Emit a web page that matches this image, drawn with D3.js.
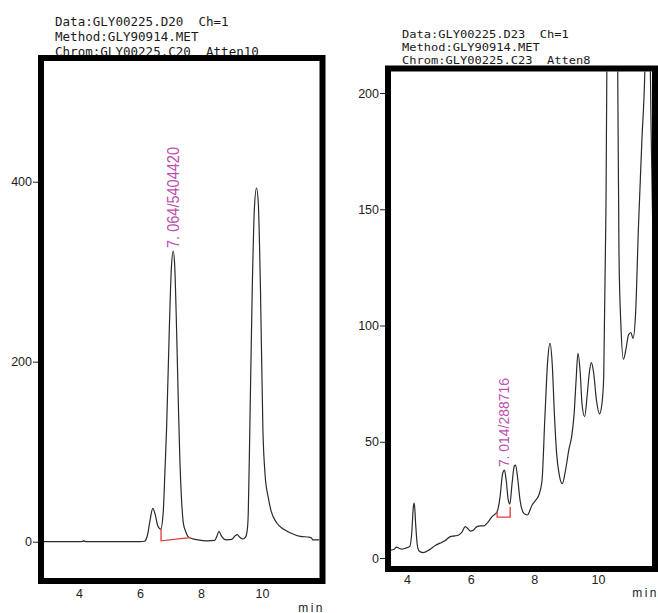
<!DOCTYPE html>
<html>
<head>
<meta charset="utf-8">
<script src="https://cdn.jsdelivr.net/npm/d3@7"></script>
<style>
  body { margin: 0; background: #fff; }
  text { font-family: "Liberation Sans", Arial, sans-serif; }
</style>
</head>
<body>
<svg id="chart" width="658" height="613"></svg>
<script>
// ---- run D20 (left panel) ----
var leftTime = [2.85, 4.0, 4.12, 4.15, 4.19, 4.3, 5.0, 6.0, 6.15, 6.25, 6.33, 6.42, 6.5, 6.58, 6.68,
  6.76, 6.82, 6.87, 6.96, 7.03, 7.09, 7.14, 7.2, 7.26, 7.31, 7.36, 7.42, 7.5, 7.57, 7.7, 7.9,
  8.2, 8.45, 8.52, 8.59, 8.66, 8.75, 8.84, 9.0, 9.12, 9.19, 9.27, 9.38, 9.46, 9.52, 9.55, 9.6,
  9.68, 9.75, 9.82, 9.88, 9.95, 10.03, 10.1, 10.2, 10.3, 10.48, 10.7, 10.92, 11.25, 11.55,
  11.62, 11.66, 11.89];
var leftSignal = [0, 0, 0.3, 1.2, 0.3, 0, 0, 0, 0.5, 8, 24, 37, 30, 18, 14,
  32, 80, 124, 235, 305, 323, 305, 235, 150, 88, 48, 21, 11, 6, 3.5, 2,
  1, 1.5, 6, 11.5, 7, 3, 2, 2.5, 6.5, 7.8, 5, 3, 5, 14, 32, 124,
  280, 370, 393, 375, 280, 124, 75, 50, 34, 21, 14, 10, 6, 5,
  4.4, 2, 2];
var leftXTicks = [4, 6, 8, 10];
var leftYTicks = [0, 200, 400];
var leftHeader = ["Data:GLY00225.D20  Ch=1", "Method:GLY90914.MET", "Chrom:GLY00225.C20  Atten10"];
var leftPeakTime = 7.064;
var leftPeakLabel = "7. 064/5404420";
var leftBaseTime = [6.69, 6.69, 7.64];
var leftBaseSignal = [14, 1, 4.5];

// ---- run D23 (right panel) ----
var rightTime = [3.45, 3.6, 3.67, 3.75, 3.83, 3.95, 4.09, 4.15, 4.2, 4.23, 4.27, 4.32, 4.38, 4.5,
  4.7, 4.9, 5.04, 5.2, 5.36, 5.5, 5.62, 5.72, 5.83, 5.92, 5.99, 6.1, 6.2, 6.3, 6.41, 6.55, 6.67,
  6.83, 6.92, 7.0, 7.06, 7.12, 7.18, 7.23, 7.3, 7.37, 7.41, 7.47, 7.55, 7.67, 7.78, 7.93, 8.05,
  8.14, 8.24, 8.33, 8.42, 8.49, 8.56, 8.63, 8.7, 8.78, 8.88, 8.97, 9.09, 9.17, 9.25, 9.31, 9.37,
  9.44, 9.5, 9.58, 9.66, 9.73, 9.79, 9.86, 9.95, 10.05, 10.12, 10.18, 10.25, 10.3, 10.4, 10.45,
  10.52, 10.58, 10.62, 10.66, 10.72, 10.8, 10.88, 10.96, 11.03, 11.1, 11.18, 11.27, 11.38, 11.48,
  11.55, 11.6, 11.64, 11.68, 11.72, 11.75];
var rightSignal = [3.3, 3.8, 4.7, 4.2, 3.8, 4.2, 5, 11, 22, 23.6, 15, 6, 3, 2.3,
  3.5, 5.5, 6.4, 7.5, 9.2, 9.5, 9.9, 11, 13.5, 12.5, 11.6, 12.2, 13.5, 13.8, 13.8, 15.5, 17.8,
  19.9, 26, 36, 37.8, 33, 25, 23.2, 32, 39.5, 40, 35, 25, 19.2, 18.5, 22.8, 25,
  27, 33, 60, 85, 92.3, 84, 62, 45, 36, 32, 37, 47, 52, 62, 76, 88,
  80, 66, 60.8, 70, 80, 84, 80, 68, 62, 66, 78, 150, 260, 500, 560,
  450, 280, 209, 130, 100, 85.5, 90, 96, 97, 94.5, 105, 142, 180, 215,
  300, 310, 215, 175, 142, 120];
var rightXTicks = [4, 6, 8, 10];
var rightYTicks = [0, 50, 100, 150, 200];
var rightHeader = ["Data:GLY00225.D23  Ch=1", "Method:GLY90914.MET", "Chrom:GLY00225.C23  Atten8"];
var rightPeakTime = 7.014;
var rightPeakLabel = "7. 014/288716";
var rightBaseTime = [6.83, 6.83, 7.24, 7.24];
var rightBaseSignal = [19.9, 17.6, 17.6, 22];

var svg = d3.select("#chart");

function drawPanel(p) {
  var g = svg.append("g");

  // scales pinned to the printed tick positions
  var x = d3.scaleLinear().domain([4, 10]).range(p.xr);
  var y = d3.scaleLinear().domain(p.yd).range(p.yr);

  // header lines (drawn first so the frame overlaps the last one)
  g.selectAll(".hdr").data(p.header).enter()
    .append("text")
    .attr("class", "hdr")
    .attr("x", p.hx)
    .attr("y", (d, i) => p.hy + i * p.hdy)
    .attr("textLength", d => d.length * p.cw)
    .attr("lengthAdjust", "spacingAndGlyphs")
    .style("white-space", "pre")
    .style("font-family", "'DejaVu Sans Mono', monospace")
    .style("font-size", p.hfs + "px")
    .attr("fill", "#1a1a1a")
    .text(d => d);

  var inner = { x0: p.f[0] + 3, y0: p.f[1] + 3, x1: p.f[2] - 3, y1: p.f[3] - 3 };

  g.append("clipPath").attr("id", p.id + "clip")
    .append("rect")
    .attr("x", inner.x0).attr("y", inner.y0)
    .attr("width", inner.x1 - inner.x0).attr("height", inner.y1 - inner.y0);

  var plot = g.append("g").attr("clip-path", "url(#" + p.id + "clip)");

  var pts = p.time.map((t, i) => [t, p.signal[i]]);
  var line = d3.line().x(d => x(d[0])).y(d => y(d[1])).curve(d3.curveMonotoneX);

  plot.append("path")
    .datum(pts)
    .attr("fill", "none")
    .attr("stroke", "#2a2a2a")
    .attr("stroke-width", 1.2)
    .attr("d", line);

  // integration baseline
  var base = p.baseT.map((t, i) => [t, p.baseS[i]]);
  plot.append("path")
    .datum(base)
    .attr("fill", "none")
    .attr("stroke", "#e23a3a")
    .attr("stroke-width", 1.3)
    .attr("d", d3.line().x(d => x(d[0])).y(d => y(d[1])));

  // peak label, standing on the apex
  var apex = d3.max(pts.filter(d => Math.abs(d[0] - p.peakT) < 0.1), d => d[1]);
  var lx = x(p.peakT) + p.lab.dx, ly = y(apex) - 3;
  g.append("text")
    .attr("transform", "translate(" + lx + "," + ly + ") rotate(-90)")
    .attr("textLength", p.lab.len)
    .attr("lengthAdjust", "spacingAndGlyphs")
    .style("white-space", "pre")
    .style("font-size", p.lab.fs + "px")
    .attr("fill", "#bd4fae")
    .text(p.peakLabel);

  // frame
  g.append("rect")
    .attr("x", p.f[0]).attr("y", p.f[1])
    .attr("width", p.f[2] - p.f[0]).attr("height", p.f[3] - p.f[1])
    .attr("fill", "none")
    .attr("stroke", "#000")
    .attr("stroke-width", 6);

  // axes
  var ya = g.append("g")
    .attr("transform", "translate(" + (p.f[0] - 3) + ",0)")
    .call(d3.axisLeft(y).tickValues(p.yTicks).tickSize(5).tickPadding(1));
  ya.select(".domain").remove();

  var xa = g.append("g")
    .attr("transform", "translate(0," + (p.f[3] + 3) + ")")
    .call(d3.axisBottom(x).tickValues(p.xTicks).tickFormat(d3.format("d")).tickSize(0).tickPadding(p.xpad));
  xa.select(".domain").remove();

  g.selectAll(".tick text")
    .style("font-family", "'Liberation Sans', Arial, sans-serif")
    .style("font-size", "12.5px")
    .attr("fill", "#222");
  g.selectAll(".tick line").attr("stroke", "#222");

  g.append("text")
    .attr("x", p.minPos[0]).attr("y", p.minPos[1])
    .attr("text-anchor", "end")
    .style("font-size", "12px")
    .style("letter-spacing", "2.5px")
    .attr("fill", "#222")
    .text("min");
}

drawPanel({
  id: "L", time: leftTime, signal: leftSignal, xTicks: leftXTicks, yTicks: leftYTicks,
  header: leftHeader, peakT: leftPeakTime, peakLabel: leftPeakLabel,
  baseT: leftBaseTime, baseS: leftBaseSignal,
  xr: [79, 262], yd: [0, 400], yr: [541.7, 181.7],
  f: [41, 58, 322.5, 581],
  hx: 55, hy: 26, hdy: 14.8, hfs: 12.5, cw: 7.55,
  lab: { dx: 7, len: 101, fs: 16 },
  xpad: 5, minPos: [325, 611.5]
});

drawPanel({
  id: "R", time: rightTime, signal: rightSignal, xTicks: rightXTicks, yTicks: rightYTicks,
  header: rightHeader, peakT: rightPeakTime, peakLabel: rightPeakLabel,
  baseT: rightBaseTime, baseS: rightBaseSignal,
  xr: [407, 598], yd: [0, 200], yr: [558, 93],
  f: [388, 68.5, 655, 569],
  hx: 402, hy: 38, hdy: 13.2, hfs: 11.3, cw: 7.25,
  lab: { dx: 6.5, len: 89, fs: 15 },
  xpad: 3, minPos: [659, 597]
});
</script>
</body>
</html>
